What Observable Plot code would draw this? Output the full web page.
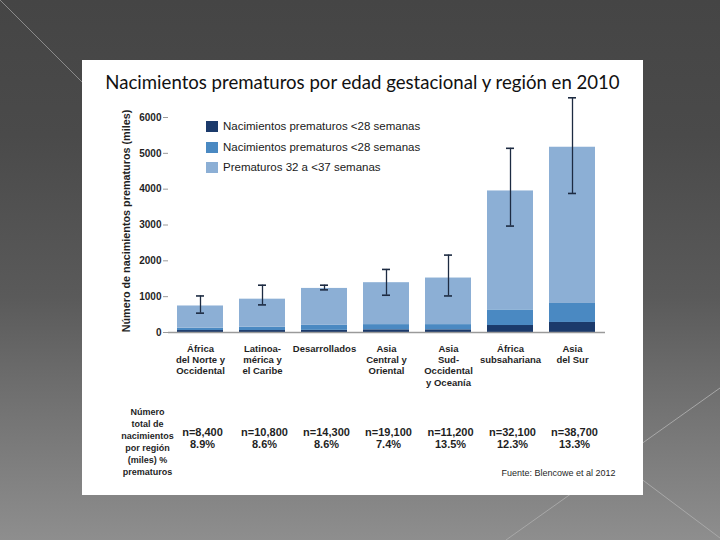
<!DOCTYPE html>
<html>
<head>
<meta charset="utf-8">
<script src="https://cdn.jsdelivr.net/npm/d3@7"></script>
<script src="https://cdn.jsdelivr.net/npm/@observablehq/plot@0.6"></script>
<style>
  html, body { margin: 0; padding: 0; }
  body {
    width: 720px; height: 540px; overflow: hidden; position: relative;
    background: linear-gradient(to bottom, #454545 0%, #4a4a4a 25%, #5a5a5a 55%, #727272 75%, #8e8e8e 100%);
  }
  #deco { position: absolute; left: 0; top: 0; }
  #slide { position: absolute; left: 82px; top: 60px; width: 561px; height: 435px; background: #fff; }
  #title {
    position: absolute; left: 0; top: 11px; width: 561px; text-align: center;
    font-family: Lato, "Open Sans", sans-serif; font-size: 18.6px; color: #111; white-space: nowrap;
  }
  #chart { position: absolute; left: 0; top: 0; }
  #legend { position: absolute; left: 124px; top: 60px; font-family: "Liberation Sans", Arial, sans-serif; font-size: 11.5px; color: #1a1a1a; }
  .row { position: relative; height: 20.5px; }
  .sw { position: absolute; left: 0; top: 1px; width: 12px; height: 11px; }
  .lb { position: absolute; left: 17px; top: 0; line-height: 13px; white-space: nowrap; }
</style>
</head>
<body>
<svg id="deco" width="720" height="540">
  <line x1="0" y1="0" x2="90" y2="90" stroke="#8a8a8a" stroke-width="1"/>
  <line x1="720" y1="388" x2="506" y2="540" stroke="#a8a8a8" stroke-width="1"/>
  <line x1="560" y1="418" x2="720" y2="538" stroke="#a8a8a8" stroke-width="1"/>
</svg>
<div id="slide">
  <div id="title">Nacimientos prematuros por edad gestacional y región en 2010</div>
  <div id="chart"></div>
  <div id="legend"></div>
</div>
<script>
// Regions (x categories), with their line breaks as printed under the bars
const regions = [
  "África\ndel Norte y\nOccidental",
  "Latinoa-\nmérica y\nel Caribe",
  "Desarrollados",
  "Asia\nCentral y\nOriental",
  "Asia\nSud-\nOccidental\ny Oceanía",
  "África\nsubsahariana",
  "Asia\ndel Sur"
];

// Preterm births by gestational age (thousands)
const veryEarly = [55, 55, 60, 75, 75, 195, 280];           // < 28 weeks
const early     = [65, 95, 140, 145, 145, 435, 530];        // 28 to < 32 weeks
const late      = [620, 780, 1030, 1170, 1300, 3320, 4360]; // 32 to < 37 weeks

// Uncertainty range of the total (thousands)
const rangeLow  = [540, 770, 1190, 1040, 1020, 2970, 3880];
const rangeHigh = [1020, 1320, 1320, 1760, 2160, 5140, 6550];

// Total births per region (thousands) and preterm share (%)
const totalBirths = [8400, 10800, 14300, 19100, 11200, 32100, 38700];
const pretermPct  = [8.9, 8.6, 8.6, 7.4, 13.5, 12.3, 13.3];

const seriesKeys   = ["lt28", "28to32", "32to37"];
const legendLabels = [
  "Nacimientos prematuros <28 semanas",
  "Nacimientos prematuros <28 semanas",
  "Prematuros 32 a <37 semanas"
];
const seriesColors = ["#1b3a6b", "#4a89c2", "#8cafd5"];
const yTicks = [0, 1000, 2000, 3000, 4000, 5000, 6000];

const yLabel = "Número de nacimientos prematuros (miles)";
const tableLabel = "Número\ntotal de\nnacimientos\npor región\n(miles) %\nprematuros";
const sourceNote = "Fuente: Blencowe et al 2012";

// Long-format rows for the stacked bars
const seriesValues = [veryEarly, early, late];
const rows = regions.flatMap((r, i) =>
  seriesKeys.map((s, j) => ({region: r, series: s, value: seriesValues[j][i]}))
);
const ranges = regions.map((r, i) => ({region: r, lo: rangeLow[i], hi: rangeHigh[i]}));
const fmtN = d3.format(",");

const errColor = "#1d2b42";
const axisGrey = "#9a9a9a";

const chart = Plot.plot({
  width: 561,
  height: 435,
  marginLeft: 86,
  marginRight: 40,
  marginTop: 57,
  marginBottom: 163,
  style: {fontFamily: "'Liberation Sans', Arial, sans-serif", color: "#1f1f1f", background: "transparent", overflow: "visible"},
  x: {domain: regions, paddingInner: 0.26, paddingOuter: 0.13, axis: null},
  y: {domain: [0, 6000], axis: null},
  color: {domain: seriesKeys, range: seriesColors},
  marks: [
    Plot.barY(rows, {x: "region", y: "value", fill: "series"}),
    Plot.ruleX(ranges, {x: "region", y1: "lo", y2: "hi", stroke: errColor, strokeWidth: 1.3}),
    Plot.tickY(ranges, {x: "region", y: "lo", stroke: errColor, strokeWidth: 1.6, insetLeft: 19, insetRight: 19}),
    Plot.tickY(ranges, {x: "region", y: "hi", stroke: errColor, strokeWidth: 1.6, insetLeft: 19, insetRight: 19}),
    Plot.ruleY([0], {stroke: axisGrey, strokeWidth: 1.5, insetRight: -2}),
    Plot.axisY({
      ticks: yTicks, tickFormat: d => String(d), tickSize: 5, tickPadding: 2,
      stroke: axisGrey, line: true, fontSize: 10, fontWeight: "bold", label: null
    }),
    Plot.axisX({tickSize: 0, tickPadding: 11, fontSize: 9.5, fontWeight: "bold", lineHeight: 1.2, label: null}),
    Plot.text([yLabel], {
      text: d => d, frameAnchor: "left", textAnchor: "middle", rotate: -90,
      dx: -42, dy: -4, fontSize: 10.8, fontWeight: "bold"
    }),
    // table under the chart: totals and preterm share per region
    Plot.text(regions, {
      x: d => d,
      text: (d, i) => `n=${fmtN(totalBirths[i])}\n${pretermPct[i].toFixed(1)}%`,
      frameAnchor: "bottom", dx: 2, dy: 106, lineAnchor: "middle", lineHeight: 1.1,
      fontSize: 11, fontWeight: "bold"
    }),
    Plot.text([tableLabel], {
      text: d => d, frameAnchor: "bottom-left", dx: -21, dy: 108.5,
      textAnchor: "middle", lineAnchor: "middle", lineHeight: 1.35, fontSize: 9, fontWeight: "bold"
    }),
    Plot.text([sourceNote], {
      text: d => d, frameAnchor: "bottom-right", dx: 12, dy: 141,
      textAnchor: "end", lineAnchor: "middle", fontSize: 9
    })
  ]
});
document.getElementById("chart").append(chart);

// Legend inside the plot area
const legend = document.getElementById("legend");
legendLabels.forEach((label, i) => {
  const row = document.createElement("div");
  row.className = "row";
  const sw = document.createElement("div");
  sw.className = "sw";
  sw.style.background = seriesColors[i];
  const lb = document.createElement("div");
  lb.className = "lb";
  lb.textContent = label;
  row.append(sw, lb);
  legend.append(row);
});
</script>
</body>
</html>
